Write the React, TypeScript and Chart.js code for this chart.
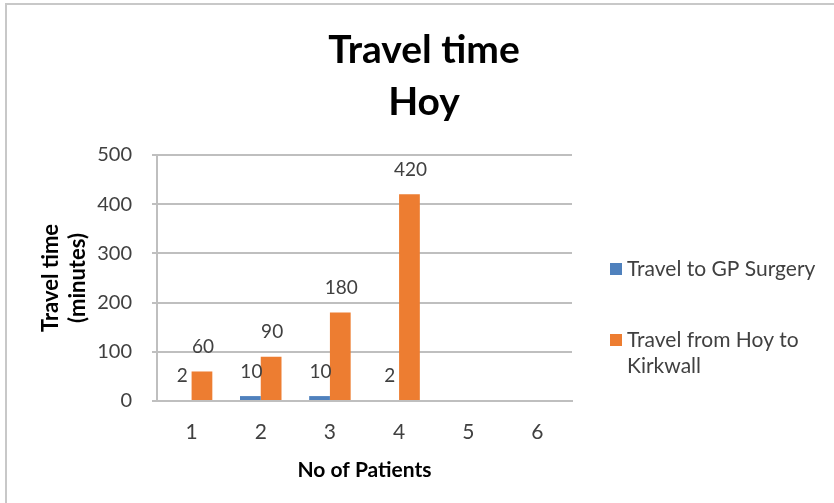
import React, { useEffect, useRef } from "react";
import { Chart, registerables } from "chart.js";

Chart.register(...registerables);

const categories = ["1", "2", "3", "4", "5", "6"];
const gpSurgery = [2, 10, 10, 2, null, null];
const hoyToKirkwall = [60, 90, 180, 420, null, null];
const seriesNames = ["Travel to GP Surgery", "Travel from Hoy to Kirkwall"];
const legendLines = [["Travel to GP Surgery"], ["Travel from Hoy to", "Kirkwall"]];
const titleLines = ["Travel time", "Hoy"];
const yTitleLines = ["Travel time", "(minutes)"];
const xTitle = "No of Patients";

const FONT = "Lato, 'Open Sans', sans-serif";
const BLUE = "#4f81bd";
const ORANGE = "#ed7d31";

const framePlugin = {
  id: "frame",
  beforeDraw(chart: any) {
    const ctx = chart.ctx;
    ctx.save();
    ctx.fillStyle = "#ffffff";
    ctx.fillRect(0, 0, chart.width, chart.height);
    ctx.strokeStyle = "#c8c8c8";
    ctx.lineWidth = 2;
    ctx.beginPath();
    ctx.moveTo(6, chart.height);
    ctx.lineTo(6, 4);
    ctx.lineTo(chart.width, 4);
    ctx.stroke();
    ctx.restore();
  },
  afterDraw(chart: any) {
    const ctx = chart.ctx;
    ctx.save();
    ctx.font = `bold 39px ${FONT}`;
    ctx.fillStyle = "#000000";
    ctx.textAlign = "center";
    ctx.textBaseline = "middle";
    titleLines.forEach((t, i) => ctx.fillText(t, 424, 50 + i * 52));
    ctx.restore();
  },
};

const labelPlugin = {
  id: "barLabels",
  afterDatasetsDraw(chart: any) {
    const ctx = chart.ctx;
    ctx.save();
    ctx.font = `19px ${FONT}`;
    ctx.fillStyle = "#404040";
    ctx.textAlign = "center";
    ctx.textBaseline = "bottom";
    chart.data.datasets.forEach((ds: any, di: number) => {
      const meta = chart.getDatasetMeta(di);
      meta.data.forEach((el: any, i: number) => {
        const v = ds.data[i];
        if (v === null || v === undefined) return;
        ctx.fillText(String(v), el.x + 1, el.y - 15);
      });
    });
    ctx.restore();
  },
};

const legendPlugin = {
  id: "sideLegend",
  afterDraw(chart: any) {
    const ctx = chart.ctx;
    ctx.save();
    ctx.font = `21px ${FONT}`;
    ctx.textBaseline = "middle";
    ctx.textAlign = "left";
    const starts = [269, 340];
    legendLines.forEach((lines, i) => {
      const y0 = starts[i];
      ctx.fillStyle = chart.data.datasets[i].backgroundColor;
      ctx.fillRect(610, y0 - 6, 12, 12);
      ctx.fillStyle = "#404040";
      lines.forEach((t, j) => ctx.fillText(t, 627, y0 + j * 26));
    });
    ctx.restore();
  },
};

export default function App() {
  const ref = useRef<HTMLCanvasElement | null>(null);
  useEffect(() => {
    if (!ref.current) return;
    const chart = new Chart(ref.current, {
      type: "bar",
      data: {
        labels: categories,
        datasets: [
          { label: seriesNames[0], data: gpSurgery, backgroundColor: BLUE },
          { label: seriesNames[1], data: hoyToKirkwall, backgroundColor: ORANGE },
        ],
      },
      options: {
        responsive: false,
        animation: false,
        layout: { autoPadding: false, padding: { left: 37, right: 262, top: 155, bottom: 20 } },
        datasets: { bar: { categoryPercentage: 0.6, barPercentage: 1 } },
        plugins: {
          legend: { display: false },
          tooltip: { enabled: false },
          title: { display: false },
        },
        scales: {
          x: {
            afterFit: (s: any) => { s.height = 82; },
            grid: { display: false, drawTicks: false },
            border: { color: "#bfbfbf", width: 2 },
            ticks: { color: "#404040", font: { family: FONT, size: 21 }, padding: 19 },
            title: {
              display: true,
              text: xTitle,
              color: "#000000",
              font: { family: FONT, size: 21, weight: "bold" },
              padding: { top: 12, bottom: 0 },
            },
          },
          y: {
            afterFit: (s: any) => { s.width = 120; },
            min: 0,
            max: 500,
            ticks: { stepSize: 100, color: "#404040", font: { family: FONT, size: 20 }, padding: 20 },
            grid: { color: "#bfbfbf", lineWidth: 2, tickLength: 5 },
            border: { color: "#bfbfbf", width: 2 },
            title: {
              display: true,
              text: yTitleLines,
              color: "#000000",
              font: { family: FONT, size: 22, weight: "bold", lineHeight: 1.23 },
              padding: { top: 0, bottom: 6 },
            },
          },
        },
      },
      plugins: [framePlugin, labelPlugin, legendPlugin],
    });
    return () => chart.destroy();
  }, []);
  return (
    <div style={{ position: "absolute", left: 0, top: 0, width: 834, height: 503 }}>
      <canvas ref={ref} width={834} height={503} style={{ display: "block" }} />
    </div>
  );
}
